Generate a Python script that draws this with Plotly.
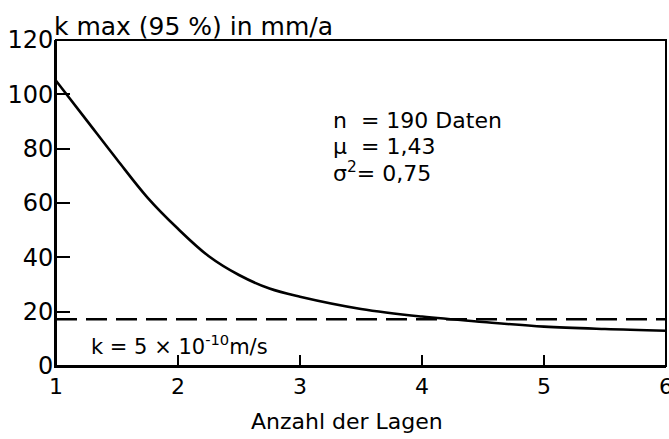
import plotly.graph_objects as go

# Data
lagen = [1, 1.25, 1.5, 1.75, 2, 2.25, 2.5, 2.75, 3, 3.5, 4, 4.5, 5, 5.5, 6]
k_max = [105, 90.5, 76, 62, 50.5, 40.5, 33.5, 28.5, 25.5, 21, 18.2, 16.2, 14.5, 13.6, 13]
k_ref_x = [1, 6]
k_ref_y = [17.2, 17.2]
x_ticks = [1, 2, 3, 4, 5, 6]
y_ticks = [0, 20, 40, 60, 80, 100, 120]
stats_lines = ["n  = 190 Daten", "μ  = 1,43", "σ<sup>2</sup>= 0,75"]
stats_y = [90.4, 80.9, 71.3]

FONT = "DejaVu Sans"

fig = go.Figure()
fig.add_trace(go.Scatter(x=k_ref_x, y=k_ref_y, mode="lines",
                         line=dict(color="black", width=2.5, dash="21px,9px"),
                         showlegend=False))
fig.add_trace(go.Scatter(x=lagen, y=k_max, mode="lines", line_shape="spline",
                         line=dict(color="black", width=2.6, smoothing=1.0), showlegend=False))

axis_common = dict(ticks="inside", tickwidth=2, tickcolor="black", showline=True,
                   linecolor="black", linewidth=2, mirror=False, showgrid=False,
                   zeroline=False, automargin=False, ticklabeloverflow="allow")

annotations = [
    dict(text="k max (95 %) in mm/a", xref="paper", yref="paper", x=-0.007, y=1.0,
         xanchor="left", yanchor="bottom", showarrow=False, font=dict(size=25), yshift=-3),
    dict(text="Anzahl der Lagen", xref="paper", yref="paper", x=0.477, y=0,
         xanchor="center", yanchor="middle", showarrow=False, font=dict(size=22), yshift=-55),
    dict(text="k = 5 × 10<sup>-10</sup>m/s", xref="x", yref="y", x=1.27, y=7.7,
         xanchor="left", yanchor="middle", showarrow=False, font=dict(size=21)),
]
for txt, yy in zip(stats_lines, stats_y):
    annotations.append(dict(text=txt, xref="x", yref="y", x=3.25, y=yy, xanchor="left",
                            yanchor="middle", showarrow=False, align="left",
                            font=dict(size=22)))

fig.update_layout(
    width=669, height=439,
    margin=dict(l=56, r=3, t=40, b=73),
    paper_bgcolor="white", plot_bgcolor="white",
    font=dict(family=FONT, size=22, color="black"),
    xaxis=dict(range=[1, 6], tickvals=x_ticks, ticklen=11,
               tickfont=dict(size=22), **axis_common),
    yaxis=dict(range=[0, 120], tickvals=y_ticks, ticklen=14,
               tickfont=dict(size=24), ticklabelstandoff=-4, **axis_common),
    annotations=annotations,
    shapes=[dict(type="rect", xref="paper", yref="paper", x0=0, y0=0, x1=1, y1=1,
                 line=dict(color="black", width=2), layer="above")],
)

fig.write_html("out.html", config={"displayModeBar": False},
               post_script="document.body.style.margin='0';")
